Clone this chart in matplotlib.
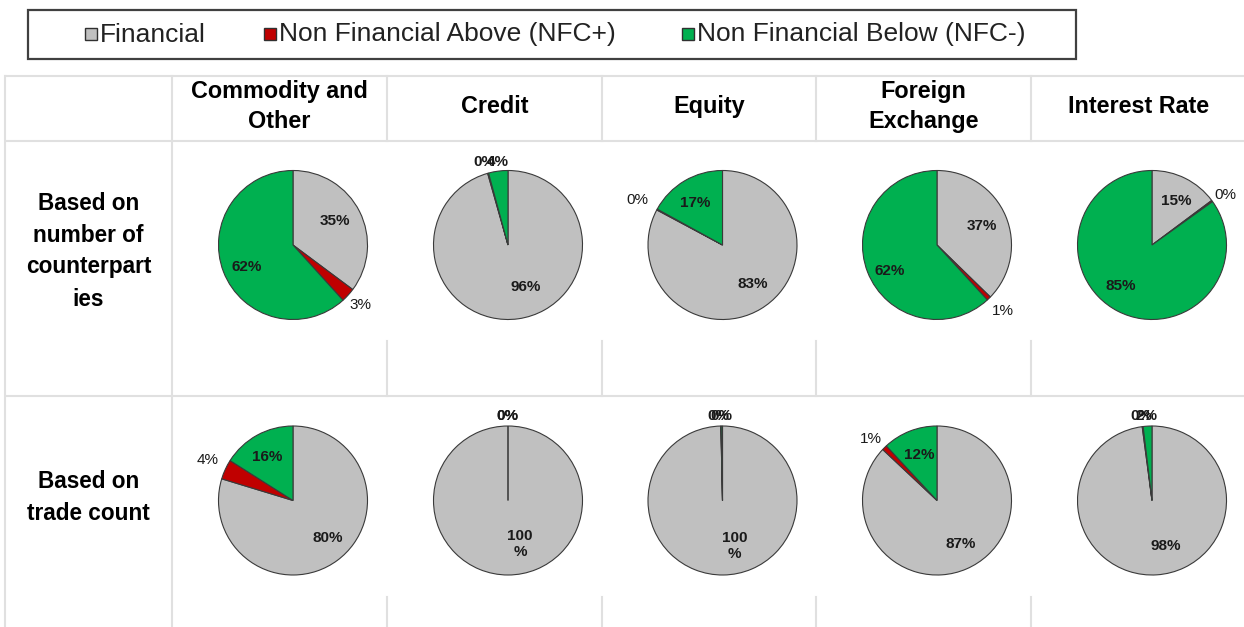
import matplotlib
matplotlib.use("Agg")
import matplotlib.pyplot as plt
from matplotlib.patches import Rectangle

# ---------------- data ----------------
categories = ["Commodity and\nOther", "Credit", "Equity", "Foreign\nExchange", "Interest Rate"]
row_labels = ["Based on\nnumber of\ncounterpart\nies", "Based on\ntrade count"]
series = ["Financial", "Non Financial Above (NFC+)", "Non Financial Below (NFC-)"]

# Row 1: based on number of counterparties (%)
financial_cpty = [35.2, 95.6, 82.8, 37.3, 14.8]
nfc_plus_cpty = [3.1, 0.2, 0.2, 0.9, 0.3]
nfc_minus_cpty = [61.7, 4.2, 17.0, 61.8, 84.9]

# Row 2: based on trade count (%)
financial_trades = [79.7, 100.0, 99.65, 87.0, 97.9]
nfc_plus_trades = [4.3, 0.0, 0.05, 1.1, 0.2]
nfc_minus_trades = [16.0, 0.0, 0.3, 11.9, 1.9]

# ---------------- style / layout ----------------
colors = ["#C0C0C0", "#C00000", "#00B050"]
grid_c = "#E0E0E0"
FONT = "Liberation Sans"
W, H = 1244, 627
col_edges = [172, 387, 601.5, 816, 1031, 1246]
row_centers_y = [245, 500.5]
R_PX = 74.5
AX_PX = 210

# label placement (in pie radii, y up) and weight for each slice, per row / column
label_layout = [
    [
        [(0.56, 0.32, "bold"), (0.91, -0.81, "normal"), (-0.62, -0.30, "bold")],
        [(0.24, -0.57, "bold"), (-0.32, 1.11, "bold"), (-0.14, 1.11, "bold")],
        [(0.41, -0.52, "bold"), (-1.14, 0.60, "normal"), (-0.36, 0.57, "bold")],
        [(0.60, 0.26, "bold"), (0.89, -0.89, "normal"), (-0.63, -0.35, "bold")],
        [(0.32, 0.59, "bold"), (0.99, 0.67, "normal"), (-0.42, -0.55, "bold")],
    ],
    [
        [(0.47, -0.50, "bold"), (-1.14, 0.54, "normal"), (-0.35, 0.58, "bold")],
        [(0.16, -0.58, "bold"), (-0.01, 1.13, "bold"), (-0.01, 1.13, "bold")],
        [(0.16, -0.61, "bold"), (-0.05, 1.13, "bold"), (-0.01, 1.13, "bold")],
        [(0.32, -0.58, "bold"), (-0.89, 0.82, "normal"), (-0.24, 0.61, "bold")],
        [(0.19, -0.61, "bold"), (-0.14, 1.13, "bold"), (-0.07, 1.13, "bold")],
    ],
]

rows_data = [
    (financial_cpty, nfc_plus_cpty, nfc_minus_cpty),
    (financial_trades, nfc_plus_trades, nfc_minus_trades),
]

fig = plt.figure(figsize=(W / 100, H / 100), dpi=100)
bg = fig.add_axes([0, 0, 1, 1])
bg.set_xlim(0, W)
bg.set_ylim(H, 0)
bg.axis("off")

# ---------------- table grid ----------------
lw = 1.5
for y in [76, 141, 396]:
    bg.plot([4, W], [y, y], color=grid_c, lw=lw, solid_capstyle="butt")
bg.plot([5, 5], [76, H], color=grid_c, lw=lw)
bg.plot([172, 172], [76, H], color=grid_c, lw=lw)
for x in col_edges[1:-1]:
    bg.plot([x, x], [76, 141], color=grid_c, lw=lw)
    bg.plot([x, x], [341, 396], color=grid_c, lw=lw)
    bg.plot([x, x], [597, H], color=grid_c, lw=lw)

# ---------------- header / row labels ----------------
for i, cat in enumerate(categories):
    xc = (col_edges[i] + col_edges[i + 1]) / 2
    bg.text(xc, 106.5, cat, ha="center", va="center", fontsize=16.8,
            fontweight="bold", family=FONT, linespacing=1.42)

for y, lab in zip([251, 497], row_labels):
    bg.text(88.5, y, lab, ha="center", va="center", fontsize=16.3,
            fontweight="bold", family=FONT, linespacing=1.5)

# ---------------- legend ----------------
bg.add_patch(Rectangle((28, 9.5), 1048, 49, fill=False, edgecolor="#404040", lw=1.6))
legend_x = [100, 279, 697]
for name, c, tx in zip(series, colors, legend_x):
    bg.add_patch(Rectangle((tx - 15, 28), 12, 12, facecolor=c, edgecolor="#303030", lw=1.0))
    bg.text(tx, 34.5, name, ha="left", va="center", fontsize=19, family=FONT,
            color="#222222")

# ---------------- pies ----------------
L = (AX_PX / 2) / R_PX
for r, (fin, plus, minus) in enumerate(rows_data):
    cy = row_centers_y[r]
    for c in range(len(categories)):
        cx = col_edges[c] + 121
        ax = fig.add_axes([(cx - AX_PX / 2) / W, 1 - (cy + AX_PX / 2) / H,
                           AX_PX / W, AX_PX / H])
        vals = [fin[c], plus[c], minus[c]]
        ax.pie(vals, colors=colors, startangle=90, counterclock=False, radius=1,
               wedgeprops=dict(edgecolor="#3A3A3A", linewidth=0.8))
        ax.set_xlim(-L, L)
        ax.set_ylim(-L, L)
        ax.set_aspect("equal")
        ax.axis("off")
        for v, (dx, dy, wt) in zip(vals, label_layout[r][c]):
            txt = f"{round(v):d}%"
            if round(v) >= 100:
                txt = txt.replace("%", "\n%")
            ax.text(dx, dy, txt, ha="center", va="center", fontsize=11,
                    fontweight=wt, family=FONT, color="#1a1a1a",
                    clip_on=False, linespacing=1.15)

fig.savefig("out.png", dpi=100, facecolor="white")
